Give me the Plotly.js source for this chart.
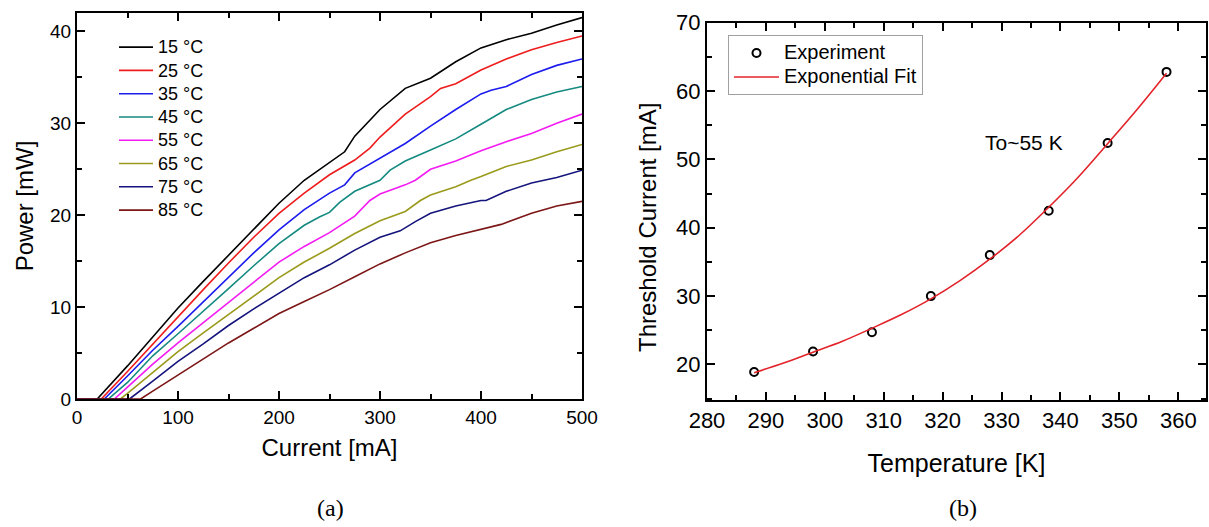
<!DOCTYPE html>
<html><head><meta charset="utf-8">
<script src="https://cdn.plot.ly/plotly-3.0.1.min.js"></script>
<style>html,body{margin:0;padding:0;background:#fff}#chart{width:1209px;height:527px}</style>
</head><body><div id="chart"></div>
<script>
const W = 1209, H = 527;

// ---------- Panel (a): Power vs Current ----------
const seriesNames = ['15 °C', '25 °C', '35 °C', '45 °C', '55 °C', '65 °C', '75 °C', '85 °C'];

const current15 = [0, 20, 50, 75, 100, 125, 150, 175, 200, 225, 250, 265, 275, 300, 325, 350, 375, 400, 425, 450, 475, 500];
const power15   = [0, 0, 3.6, 6.8, 9.9, 12.8, 15.6, 18.5, 21.3, 23.8, 25.7, 26.9, 28.6, 31.5, 33.8, 34.9, 36.7, 38.2, 39.1, 39.8, 40.7, 41.5];

const current25 = [0, 24, 50, 75, 100, 125, 150, 175, 200, 225, 250, 275, 290, 300, 325, 350, 360, 375, 400, 425, 450, 475, 500];
const power25   = [0, 0, 3.0, 6.0, 9.0, 11.9, 14.8, 17.6, 20.2, 22.4, 24.4, 26.0, 27.3, 28.5, 31.0, 32.9, 33.8, 34.3, 35.8, 37.0, 38.0, 38.8, 39.5];

const current35 = [0, 27, 50, 75, 100, 125, 150, 175, 200, 225, 250, 265, 275, 300, 325, 350, 375, 400, 410, 425, 450, 475, 500];
const power35   = [0, 0, 2.5, 5.3, 7.9, 10.6, 13.3, 15.9, 18.4, 20.6, 22.4, 23.3, 24.6, 26.2, 27.8, 29.7, 31.5, 33.2, 33.6, 34.0, 35.3, 36.3, 37.0];

const current45 = [0, 31, 50, 75, 100, 125, 150, 175, 200, 225, 240, 250, 260, 275, 300, 310, 325, 350, 375, 400, 425, 450, 475, 500];
const power45   = [0, 0, 1.8, 4.7, 7.1, 9.5, 12.0, 14.5, 16.9, 18.9, 19.8, 20.3, 21.4, 22.6, 23.8, 24.9, 25.9, 27.1, 28.3, 29.9, 31.5, 32.6, 33.4, 34.0];

const current55 = [0, 37, 50, 75, 100, 125, 150, 175, 200, 225, 250, 275, 290, 300, 325, 335, 350, 375, 400, 425, 450, 475, 500];
const power55   = [0, 0, 1.3, 3.8, 6.1, 8.3, 10.6, 12.8, 14.9, 16.6, 18.1, 19.9, 21.6, 22.3, 23.3, 23.8, 25.0, 25.9, 27.0, 28.0, 28.9, 30.0, 31.0];

const current65 = [0, 43, 50, 75, 100, 125, 150, 175, 200, 225, 250, 275, 300, 325, 340, 350, 375, 390, 400, 425, 450, 475, 500];
const power65   = [0, 0, 0.6, 2.9, 5.15, 7.2, 9.2, 11.2, 13.2, 14.9, 16.4, 18.0, 19.4, 20.4, 21.6, 22.2, 23.1, 23.8, 24.2, 25.3, 26.0, 26.9, 27.7];

const current75 = [0, 52, 75, 100, 125, 150, 175, 200, 225, 250, 275, 300, 320, 335, 350, 375, 400, 405, 425, 450, 475, 500];
const power75   = [0, 0, 1.95, 4.1, 6.0, 8.0, 9.8, 11.5, 13.2, 14.6, 16.2, 17.6, 18.3, 19.3, 20.2, 21.0, 21.6, 21.6, 22.6, 23.5, 24.1, 24.9];

const current85 = [0, 63, 75, 100, 125, 150, 175, 200, 225, 250, 275, 300, 325, 350, 375, 400, 420, 450, 475, 500];
const power85   = [0, 0, 0.85, 2.6, 4.4, 6.1, 7.7, 9.3, 10.6, 11.9, 13.3, 14.7, 15.9, 17.0, 17.8, 18.5, 19.0, 20.2, 21.0, 21.5];

const currents = [current15, current25, current35, current45, current55, current65, current75, current85];
const powers   = [power15, power25, power35, power45, power55, power65, power75, power85];
const lineColors = ['#000000', '#ee1c1c', '#1c1cee', '#148a80', '#f21cf2', '#9a9a1c', '#14147c', '#7c1616'];

// ---------- Panel (b): Threshold current vs Temperature ----------
const temperatureK     = [288, 298, 308, 318, 328, 338, 348, 358];
const thresholdCurrent = [18.9, 21.9, 24.7, 30.0, 36.0, 42.5, 52.4, 62.8];
const fitTemperatureK  = [288, 293, 298, 303, 308, 313, 318, 323, 328, 333, 338, 343, 348, 353, 358];
const fitThreshold     = [18.8, 20.2, 21.8, 23.4, 25.3, 27.3, 29.6, 32.3, 35.4, 38.9, 43.0, 47.4, 52.3, 57.3, 62.6];

const FONT = 'Liberation Sans, Arial, sans-serif';
const SERIF = 'Liberation Serif, Times New Roman, serif';

const traces = [];
for (let i = 0; i < seriesNames.length; i++) {
  traces.push({
    type: 'scatter', mode: 'lines',
    name: '<span style="font-size:18px">' + seriesNames[i] + '</span>',
    x: currents[i], y: powers[i], xaxis: 'x', yaxis: 'y',
    line: {color: lineColors[i], width: 1.6},
    legend: 'legend', hoverinfo: 'skip'
  });
}
traces.push({
  type: 'scatter', mode: 'markers', name: '<span style="font-size:20px">Experiment</span>',
  x: temperatureK, y: thresholdCurrent, xaxis: 'x2', yaxis: 'y2',
  marker: {symbol: 'circle-open', size: 8, color: '#000', line: {width: 2, color: '#000'}},
  legend: 'legend2'
});
traces.push({
  type: 'scatter', mode: 'lines', name: '<span style="font-size:20px">Exponential Fit</span>',
  x: fitTemperatureK, y: fitThreshold, xaxis: 'x2', yaxis: 'y2',
  line: {color: '#e3232a', width: 1.6, shape: 'spline'},
  legend: 'legend2'
});

function axisBase(extra) {
  return Object.assign({
    showline: true, linewidth: 2, linecolor: '#000', mirror: 'allticks',
    ticks: 'inside', ticklen: 8, tickwidth: 2, tickcolor: '#000',
    showgrid: false, zeroline: false
  }, extra);
}
const minorTicks = function (d) {
  return {ticks: 'inside', dtick: d, ticklen: 5, tickwidth: 2, tickcolor: '#000'};
};

const layout = {
  width: W, height: H,
  margin: {l: 0, r: 0, t: 0, b: 0},
  paper_bgcolor: '#fff', plot_bgcolor: 'rgba(0,0,0,0)',
  font: {family: FONT, color: '#000'},
  xaxis: axisBase({
    domain: [77 / W, 582 / W], anchor: 'y', range: [0, 500], dtick: 100, tick0: 0,
    minor: minorTicks(50),
    tickfont: {family: FONT, size: 19, color: '#000'},
    title: {text: 'Current [mA]', font: {family: FONT, size: 24, color: '#000'}, standoff: 12}
  }),
  yaxis: axisBase({
    domain: [1 - 399 / H, 1 - 13 / H], anchor: 'x', range: [0, 42], dtick: 10, tick0: 0,
    minor: minorTicks(5),
    tickfont: {family: FONT, size: 19, color: '#000'},
    title: {text: 'Power [mW]', font: {family: FONT, size: 24, color: '#000'}, standoff: 10}
  }),
  xaxis2: axisBase({
    domain: [707 / W, 1206 / W], anchor: 'y2', range: [280, 364.7], dtick: 10, tick0: 280,
    minor: minorTicks(5),
    tickfont: {family: FONT, size: 22, color: '#000'},
    title: {text: 'Temperature [K]', font: {family: FONT, size: 25, color: '#000'}, standoff: 22}
  }),
  yaxis2: axisBase({
    domain: [1 - 400 / H, 1 - 22.7 / H], anchor: 'x2', range: [14.8, 70], dtick: 10, tick0: 20,
    minor: minorTicks(5),
    tickfont: {family: FONT, size: 22, color: '#000'}
  }),
  legend: {
    x: 114 / W, y: 1 - 30.5 / H, xanchor: 'left', yanchor: 'top',
    bgcolor: 'rgba(0,0,0,0)', borderwidth: 0, tracegroupgap: 0, itemwidth: 34,
    font: {family: FONT, size: 15.6, color: '#000'}
  },
  legend2: {
    x: 728 / W, y: 1 - 35 / H, xanchor: 'left', yanchor: 'top',
    bgcolor: '#fff', bordercolor: '#a0a0a0', borderwidth: 1, tracegroupgap: 0, itemwidth: 45,
    font: {family: FONT, size: 16.15, color: '#000'}
  },
  annotations: [
    {xref: 'paper', yref: 'paper', x: 648 / W, y: 1 - 227 / H, xanchor: 'center', yanchor: 'middle',
     text: 'Threshold Current [mA]', textangle: -90, showarrow: false,
     font: {family: FONT, size: 24, color: '#000'}},
    {xref: 'x2', yref: 'y2', x: 333.8, y: 52.5, xanchor: 'center', yanchor: 'middle',
     text: 'To~55 K', showarrow: false, font: {family: FONT, size: 21, color: '#000'}},
    {xref: 'paper', yref: 'paper', x: 330 / W, y: 1 - 508 / H, xanchor: 'center', yanchor: 'middle',
     text: '(a)', showarrow: false, font: {family: SERIF, size: 24, color: '#000'}},
    {xref: 'paper', yref: 'paper', x: 963 / W, y: 1 - 508 / H, xanchor: 'center', yanchor: 'middle',
     text: '(b)', showarrow: false, font: {family: SERIF, size: 24, color: '#000'}}
  ],
  showlegend: true
};

Plotly.newPlot('chart', traces, layout, {staticPlot: true, displayModeBar: false});
</script>
</body></html>
